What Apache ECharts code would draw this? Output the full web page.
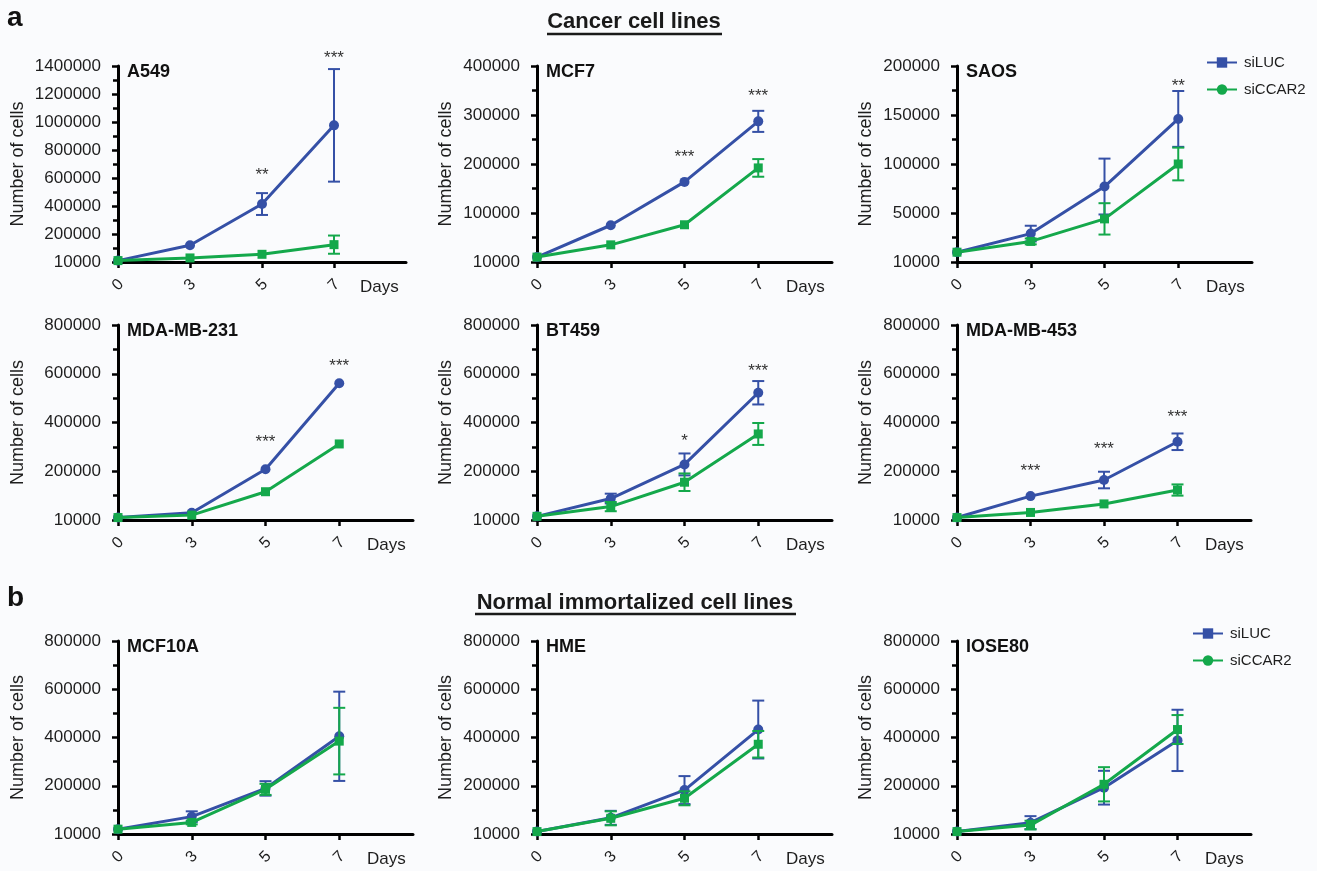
<!DOCTYPE html>
<html><head><meta charset="utf-8">
<script src="https://cdn.jsdelivr.net/npm/echarts@6/dist/echarts.min.js"></script>
<style>html,body{margin:0;padding:0;background:#fafbfd}#c{width:1317px;height:871px}</style>
</head><body><div id="c"></div>
<script>
// ---------- data ----------
const days = ['0', '3', '5', '7'];
const panelNames = ['A549', 'MCF7', 'SAOS', 'MDA-MB-231', 'BT459', 'MDA-MB-453', 'MCF10A', 'HME', 'IOSE80'];
const yMax = [1400000, 400000, 200000, 800000, 800000, 800000, 800000, 800000, 800000];
const yStep = [200000, 100000, 50000, 200000, 200000, 200000, 200000, 200000, 200000];
const bottomTickLabel = '10000';

const A549_siLUC = [10000, 120000, 414000, 976000];
const A549_siLUC_err = [0, 0, 78000, 402000];
const A549_siCCAR2 = [10000, 29000, 55000, 124000];
const A549_siCCAR2_err = [0, 0, 0, 65000];
const A549_stars = [[2, 646000, '**'], [3, 1486000, '***']];

const MCF7_siLUC = [10000, 75000, 163500, 287000];
const MCF7_siLUC_err = [0, 0, 0, 21500];
const MCF7_siCCAR2 = [10000, 35000, 76000, 192000];
const MCF7_siCCAR2_err = [0, 0, 0, 18000];
const MCF7_stars = [[2, 222000, '***'], [3, 347000, '***']];

const SAOS_siLUC = [10000, 29000, 77000, 146000];
const SAOS_siLUC_err = [0, 8000, 28500, 28500];
const SAOS_siCCAR2 = [10000, 21000, 44000, 100000];
const SAOS_siCCAR2_err = [0, 3000, 16000, 16700];
const SAOS_stars = [[3, 183700, '**']];

const MDA231_siLUC = [10000, 30000, 208000, 561000];
const MDA231_siLUC_err = [0, 0, 0, 0];
const MDA231_siCCAR2 = [10000, 20000, 116000, 312000];
const MDA231_siCCAR2_err = [0, 0, 0, 0];
const MDA231_stars = [[2, 336000, '***'], [3, 648000, '***']];

const BT459_siLUC = [15000, 88000, 228000, 522000];
const BT459_siLUC_err = [0, 20000, 45000, 48000];
const BT459_siCCAR2 = [15000, 55000, 155000, 353000];
const BT459_siCCAR2_err = [0, 19000, 36000, 45000];
const BT459_stars = [[2, 340000, '*'], [3, 628000, '***']];

const MDA453_siLUC = [10000, 98000, 164000, 321000];
const MDA453_siLUC_err = [0, 0, 34000, 34000];
const MDA453_siCCAR2 = [10000, 31000, 66000, 123000];
const MDA453_siCCAR2_err = [0, 0, 0, 23000];
const MDA453_stars = [[1, 217000, '***'], [2, 308000, '***'], [3, 439000, '***']];

const MCF10A_siLUC = [20000, 72000, 189000, 405000];
const MCF10A_siLUC_err = [0, 22000, 30000, 185000];
const MCF10A_siCCAR2 = [20000, 48000, 185000, 385000];
const MCF10A_siCCAR2_err = [0, 8000, 23000, 138000];
const MCF10A_stars = [];

const HME_siLUC = [10000, 67000, 182000, 433000];
const HME_siLUC_err = [0, 29000, 58000, 120000];
const HME_siCCAR2 = [10000, 65000, 148000, 372000];
const HME_siCCAR2_err = [0, 29000, 29000, 55000];
const HME_stars = [];

const IOSE80_siLUC = [10000, 47000, 192000, 388000];
const IOSE80_siLUC_err = [0, 27000, 70000, 127000];
const IOSE80_siCCAR2 = [10000, 37000, 206000, 433000];
const IOSE80_siCCAR2_err = [0, 18000, 71000, 60000];
const IOSE80_stars = [];

const lucSets = [A549_siLUC, MCF7_siLUC, SAOS_siLUC, MDA231_siLUC, BT459_siLUC, MDA453_siLUC, MCF10A_siLUC, HME_siLUC, IOSE80_siLUC];
const lucErrs = [A549_siLUC_err, MCF7_siLUC_err, SAOS_siLUC_err, MDA231_siLUC_err, BT459_siLUC_err, MDA453_siLUC_err, MCF10A_siLUC_err, HME_siLUC_err, IOSE80_siLUC_err];
const ccarSets = [A549_siCCAR2, MCF7_siCCAR2, SAOS_siCCAR2, MDA231_siCCAR2, BT459_siCCAR2, MDA453_siCCAR2, MCF10A_siCCAR2, HME_siCCAR2, IOSE80_siCCAR2];
const ccarErrs = [A549_siCCAR2_err, MCF7_siCCAR2_err, SAOS_siCCAR2_err, MDA231_siCCAR2_err, BT459_siCCAR2_err, MDA453_siCCAR2_err, MCF10A_siCCAR2_err, HME_siCCAR2_err, IOSE80_siCCAR2_err];
const starSets = [A549_stars, MCF7_stars, SAOS_stars, MDA231_stars, BT459_stars, MDA453_stars, MCF10A_stars, HME_stars, IOSE80_stars];

// ---------- layout / style ----------
const FONT = '"Liberation Sans", Arial, Helvetica, sans-serif';
const BLUE = '#3550a6';
const GREEN = '#14a84b';
const INK = '#1e1e1e';
const colLeft = [118, 537, 957];
const rowTop = [66, 325, 641];
const rowHeight = [196, 195, 193];
const colWidth = [[288, 295, 295], [295, 295, 294], [295, 295, 294]];
const nameGaps = [91, 82, 82];

const chart = echarts.init(document.getElementById('c'), null, { renderer: 'canvas' });

const grids = [], xAxes = [], yAxes = [], series = [], titles = [];

function errRender(color) {
  return function (params, api) {
    const x = api.value(0), m = api.value(1), e = api.value(2);
    if (!e) return null;
    const t = api.coord([x, m + e]);
    const b = api.coord([x, m - e]);
    const cw = 6;
    const st = { stroke: color, lineWidth: 2 };
    return {
      type: 'group', children: [
        { type: 'line', shape: { x1: t[0], y1: t[1], x2: b[0], y2: b[1] }, style: st },
        { type: 'line', shape: { x1: t[0] - cw, y1: t[1], x2: t[0] + cw, y2: t[1] }, style: st },
        { type: 'line', shape: { x1: b[0] - cw, y1: b[1], x2: b[0] + cw, y2: b[1] }, style: st }
      ]
    };
  };
}

panelNames.forEach((name, i) => {
  const r = Math.floor(i / 3), c = i % 3;
  grids.push({ left: colLeft[c], top: rowTop[r], width: colWidth[r][c], height: rowHeight[r], containLabel: false });
  xAxes.push({
    gridIndex: i, type: 'value', min: 0, max: 4, interval: 1,
    axisLine: { show: true, onZero: false, lineStyle: { color: '#000', width: 3 } },
    axisTick: { show: true, length: 6, customValues: [0, 1, 2, 3], lineStyle: { color: '#000', width: 2.5 } },
    axisLabel: {
      customValues: [0, 1, 2, 3], formatter: v => days[v] !== undefined ? days[v] : '',
      rotate: 45, fontSize: 16, color: INK, fontFamily: FONT, margin: 23,
      align: 'center', verticalAlign: 'middle'
    },
    splitLine: { show: false },
    name: 'Days', nameLocation: 'end', nameGap: -46,
    nameTextStyle: { fontSize: 17, color: INK, fontFamily: FONT, verticalAlign: 'top', padding: [17, 0, 0, 0] }
  });
  yAxes.push({
    gridIndex: i, type: 'value', min: 0, max: yMax[i], interval: yStep[i],
    axisLine: { show: true, lineStyle: { color: '#000', width: 3 } },
    axisTick: { show: true, length: 6, lineStyle: { color: '#000', width: 2.5 } },
    minorTick: { show: true, splitNumber: 2, length: 5, lineStyle: { color: '#000', width: 2.5 } },
    splitLine: { show: false },
    axisLabel: {
      formatter: v => v === 0 ? bottomTickLabel : String(v),
      fontSize: 17, color: INK, fontFamily: FONT, margin: 17
    },
    name: 'Number of cells', nameLocation: 'middle', nameGap: nameGaps[c],
    nameTextStyle: { fontSize: 18, color: INK, fontFamily: FONT }
  });
  titles.push({
    text: name, left: colLeft[c] + 9, top: rowTop[r] - 3, padding: 0,
    textStyle: { fontSize: 18, fontWeight: 'bold', color: '#111', fontFamily: FONT }
  });

  series.push({
    type: 'custom', name: 'errLUC' + i, xAxisIndex: i, yAxisIndex: i, clip: false,
    renderItem: errRender(BLUE), silent: true, z: 3,
    data: lucSets[i].map((v, j) => [j, v, lucErrs[i][j]])
  });
  series.push({
    type: 'line', name: 'siLUC', xAxisIndex: i, yAxisIndex: i,
    symbol: 'rect', symbolSize: 9, clip: false, z: 4,
    lineStyle: { color: BLUE, width: 3 }, itemStyle: { color: BLUE },
    data: lucSets[i].map((v, j) => ({ value: [j, v], symbol: 'circle', symbolSize: 10 }))
  });
  series.push({
    type: 'custom', name: 'errCCAR' + i, xAxisIndex: i, yAxisIndex: i, clip: false,
    renderItem: errRender(GREEN), silent: true, z: 5,
    data: ccarSets[i].map((v, j) => [j, v, ccarErrs[i][j]])
  });
  series.push({
    type: 'line', name: 'siCCAR2', xAxisIndex: i, yAxisIndex: i,
    symbol: 'circle', symbolSize: 9, clip: false, z: 6,
    lineStyle: { color: GREEN, width: 3 }, itemStyle: { color: GREEN },
    data: ccarSets[i].map((v, j) => ({ value: [j, v], symbol: 'rect' }))
  });
  const stars = starSets[i];
  if (stars.length) {
    series.push({
      type: 'custom', name: 'stars' + i, xAxisIndex: i, yAxisIndex: i, clip: false, silent: true, z: 7,
      data: stars.map(s => [s[0], s[1]]),
      renderItem: (params, api) => {
        const p = api.coord([api.value(0), api.value(1)]);
        return {
          type: 'text', x: p[0], y: p[1] + 4,
          style: { text: stars[params.dataIndex][2], fontSize: 17, fontFamily: FONT, fill: '#333', align: 'center', verticalAlign: 'middle' }
        };
      }
    });
  }
});

const legendBase = {
  orient: 'vertical', itemWidth: 30, itemHeight: 13, itemGap: 12,
  data: ['siLUC', 'siCCAR2'], selectedMode: false,
  textStyle: { fontSize: 15, color: INK, fontFamily: FONT, padding: [0, 0, 0, 2] }
};

const option = {
  backgroundColor: '#fafbfd',
  animation: false,
  title: titles,
  grid: grids,
  xAxis: xAxes,
  yAxis: yAxes,
  legend: [
    Object.assign({}, legendBase, { left: 1201, top: 50 }),
    Object.assign({}, legendBase, { left: 1187, top: 621 })
  ],
  graphic: [
    { type: 'text', x: 7, y: 4, style: { text: 'a', font: 'bold 28px ' + FONT, fill: '#111' } },
    { type: 'text', x: 7, y: 584, style: { text: 'b', font: 'bold 28px ' + FONT, fill: '#111' } },
    { type: 'text', x: 634, y: 22, style: { text: 'Cancer cell lines', font: 'bold 22px ' + FONT, fill: '#1a1a1a', align: 'center', verticalAlign: 'middle' } },
    { type: 'line', shape: { x1: 547, y1: 34, x2: 722, y2: 34 }, style: { stroke: '#1a1a1a', lineWidth: 2.5 } },
    { type: 'text', x: 635, y: 603, style: { text: 'Normal immortalized cell lines', font: 'bold 22px ' + FONT, fill: '#1a1a1a', align: 'center', verticalAlign: 'middle' } },
    { type: 'line', shape: { x1: 475, y1: 614, x2: 796, y2: 614 }, style: { stroke: '#1a1a1a', lineWidth: 2.5 } }
  ],
  series: series
};
chart.setOption(option);
</script>
</body></html>
